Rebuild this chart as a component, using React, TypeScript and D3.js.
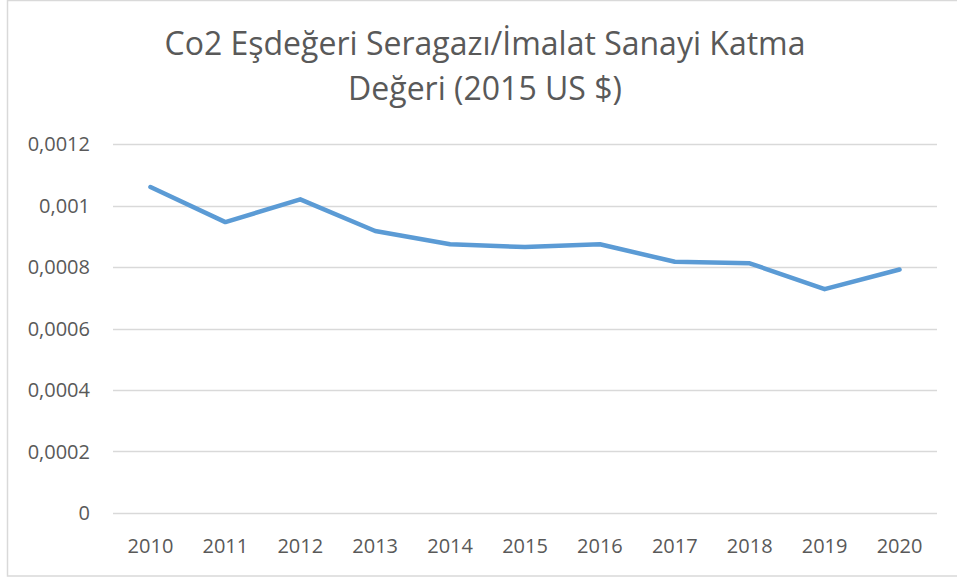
import React from "react";
import * as d3 from "d3";

const years = ["2010","2011","2012","2013","2014","2015","2016","2017","2018","2019","2020"];
const values = [0.00106, 0.000946, 0.00102, 0.000917, 0.000874, 0.000865, 0.000874, 0.000817, 0.000812, 0.000728, 0.000792];
const yTicks = [0, 0.0002, 0.0004, 0.0006, 0.0008, 0.001, 0.0012];
const yTickLabels = ["0", "0,0002", "0,0004", "0,0006", "0,0008", "0,001", "0,0012"];
const titleLines = ["Co2 Eşdeğeri Seragazı/İmalat Sanayi Katma", "Değeri (2015 US $)"];

const W = 957, H = 577;
const plot = { left: 113, right: 937, top: 144, bottom: 513 };

export default function App() {
  const x = d3.scaleBand<string>().domain(years).range([plot.left, plot.right]);
  const y = d3.scaleLinear().domain([0, 0.0012]).range([plot.bottom, plot.top]);
  const line = d3.line<number>()
    .x((_, i) => (x(years[i]) as number) + x.bandwidth() / 2)
    .y((d) => y(d));
  const font = "'Open Sans', sans-serif";
  return (
    <div style={{ position: "absolute", left: 0, top: 0 }}>
      <svg width={W} height={H} style={{ display: "block" }}>
        <rect x={0} y={0} width={W} height={H} fill="#fff" />
        <rect x={7.5} y={0.5} width={W} height={575.5} fill="none" stroke="#D9D9D9" strokeWidth={1.5} />
        {titleLines.map((t, i) => (
          <text key={i} x={485} y={55 + i * 45} textAnchor="middle" fontFamily={font} fontSize={32} fill="#595959">{t}</text>
        ))}
        {yTicks.map((v, i) => (
          <g key={i}>
            <line x1={plot.left} x2={plot.right} y1={Math.round(y(v)) + 0.5} y2={Math.round(y(v)) + 0.5} stroke="#D9D9D9" strokeWidth={1.3} />
            <text x={90} y={y(v) + 7} textAnchor="end" fontFamily={font} fontSize={20} fill="#595959">{yTickLabels[i]}</text>
          </g>
        ))}
        {years.map((yr) => (
          <text key={yr} x={(x(yr) as number) + x.bandwidth() / 2} y={553} textAnchor="middle" fontFamily={font} fontSize={20} fill="#595959">{yr}</text>
        ))}
        <path d={line(values) || ""} fill="none" stroke="#5B9BD5" strokeWidth={4.5} strokeLinejoin="round" strokeLinecap="round" />
      </svg>
    </div>
  );
}
